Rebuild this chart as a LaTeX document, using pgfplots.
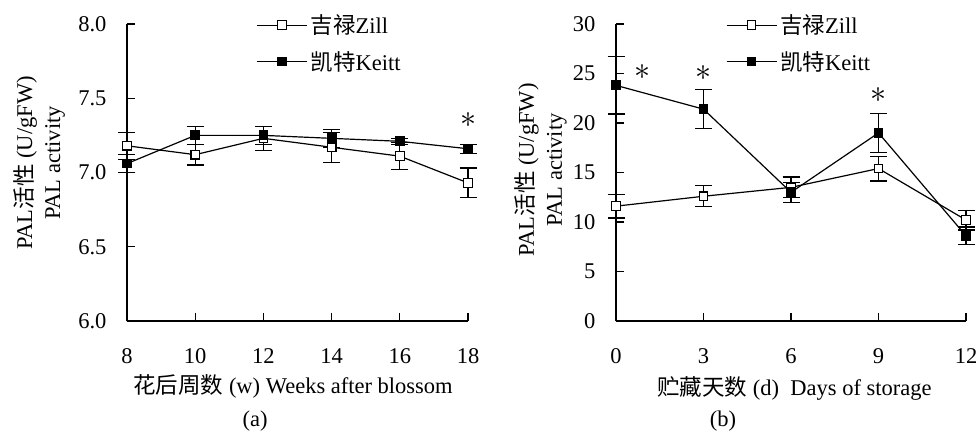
\documentclass[border=0pt]{standalone}
\usepackage{pgfplots}
\pgfplotsset{compat=1.18}
\usepackage{pgfplotstable}
\usepackage{fontspec}
\setmainfont{Liberation Serif}
\newfontfamily\cjk{Noto Sans CJK SC}

\pgfplotstableread{
x y e
8 7.18 0.09
10 7.12 0.07
12 7.23 0.08
14 7.17 0.10
16 7.11 0.09
18 6.93 0.10
}\zillA
\pgfplotstableread{
x y e
8 7.06 0.06
10 7.25 0.06
12 7.25 0.06
14 7.23 0.06
16 7.21 0.02
18 7.16 0.03
}\keittA
\pgfplotstableread{
x y e
0 11.6 1.2
3 12.6 1.05
6 13.5 1.05
9 15.4 1.25
12 10.2 1.0
}\zillB
\pgfplotstableread{
x y e
0 23.8 2.9
3 21.4 1.95
6 13.0 1.0
9 19.0 2.0
12 8.6 0.9
}\keittB

\newcommand\fs{\fontsize{22.5}{28}\selectfont}
\newcommand\sigstar{\scalebox{3.2}{$\ast$}}

\pgfplotsset{
  myaxis/.style={
    scale only axis,
    height=297pt,
    axis x line=bottom, axis y line=left,
    axis line style={-, line width=1.2pt},
    tick align=inside,
    major tick length=8pt,
    every tick/.style={black, line width=1.2pt},
    tick label style={font=\fs},
    label style={font=\fs},
    /pgf/number format/assume math mode=true,
    xticklabel style={yshift=-24pt},
    yticklabel style={xshift=-17pt},
    clip=false,
    legend cell align=left,
    legend style={draw=none, fill=none, font=\fs,
      row sep=10pt, nodes={inner sep=3pt}},
    legend image code/.code={\draw[mark repeat=2,mark phase=2,#1] plot coordinates {(0pt,0pt) (25pt,0pt) (50pt,0pt)};},
  },
  zill/.style={black, line width=1.2pt, mark=square*, mark size=4.3pt,
    mark options={fill=white, line width=1.2pt},
    error bars/.cd, y dir=both, y explicit,
    error bar style={line width=1.2pt},
    error mark options={rotate=90, mark size=8.5pt, line width=1.2pt}},
  keitt/.style={black, line width=1.2pt, mark=square*, mark size=4.3pt,
    mark options={fill=black},
    error bars/.cd, y dir=both, y explicit,
    error bar style={line width=1.2pt},
    error mark options={rotate=90, mark size=8.5pt, line width=1.2pt}},
}

\begin{document}
\begin{tikzpicture}
\useasboundingbox (0,0) rectangle (979pt,432pt);

\begin{axis}[myaxis,
  at={(127pt,111pt)}, anchor=south west,
  width=341pt,
  xmin=8, xmax=18, ymin=6, ymax=8,
  xtick={8,10,...,18},
  ytick={6,6.5,7,7.5,8},
  yticklabel style={/pgf/number format/.cd, fixed, fixed zerofill, precision=1},
  xlabel={{\cjk 花后周数} (w) Weeks after blossom},
  xlabel style={at={(axis description cs:0.487,0)}, anchor=center, yshift=-65pt},
  ylabel={PAL{\cjk 活性} (U/gFW)\\PAL activity},
  ylabel style={align=center, at={(axis description cs:-0.258,0.532)}, anchor=center},
  legend style={at={(axis description cs:0.37,1.048)}, anchor=north west},
]
\addplot+[zill] table[x=x, y=y, y error=e] {\zillA};
\addlegendentry{{\cjk 吉禄}Zill}
\addplot+[keitt] table[x=x, y=y, y error=e] {\keittA};
\addlegendentry{{\cjk 凯特}Keitt}
\node[inner sep=0pt] at (axis cs:18,7.35) {\sigstar};
\end{axis}

\begin{axis}[myaxis,
  at={(616pt,111pt)}, anchor=south west,
  width=350pt,
  xmin=0, xmax=12, ymin=0, ymax=30,
  xtick={0,3,...,12},
  ytick={0,5,...,30},
  xlabel={{\cjk 贮藏天数} (d)\enspace Days of storage},
  xlabel style={at={(axis description cs:0.51,0)}, anchor=center, yshift=-67pt},
  ylabel={PAL{\cjk 活性} (U/gFW)\\PAL activity},
  ylabel style={align=center, at={(axis description cs:-0.215,0.508)}, anchor=center},
  legend style={at={(axis description cs:0.305,1.048)}, anchor=north west},
]
\addplot+[zill] table[x=x, y=y, y error=e] {\zillB};
\addlegendentry{{\cjk 吉禄}Zill}
\addplot+[keitt] table[x=x, y=y, y error=e] {\keittB};
\addlegendentry{{\cjk 凯特}Keitt}
\node[inner sep=0pt] at (axis cs:0.9,25.1) {\sigstar};
\node[inner sep=0pt] at (axis cs:3,25.0) {\sigstar};
\node[inner sep=0pt] at (axis cs:9,22.8) {\sigstar};
\end{axis}

\node[font=\fs] at (255pt,11pt) {(a)};
\node[font=\fs] at (723pt,11pt) {(b)};
\end{tikzpicture}
\end{document}
